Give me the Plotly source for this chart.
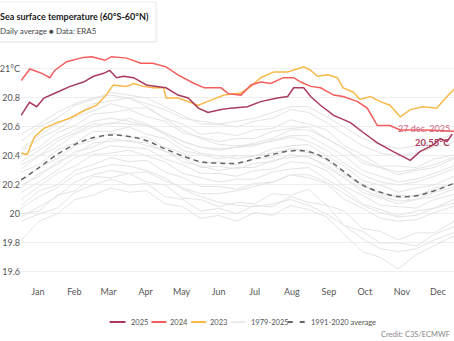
import plotly.graph_objects as go

# ---------------- data ----------------
month_labels = ["Jan", "Feb", "Mar", "Apr", "May", "Jun", "Jul", "Aug", "Sep", "Oct", "Nov", "Dec"]
month_mid_days = [15, 45.5, 74, 105, 135, 166, 196, 227, 258, 288, 319, 349]

y_tick_vals = [19.6, 19.8, 20.0, 20.2, 20.4, 20.6, 20.8, 21.0]
y_tick_text = ["19.6", "19.8", "20", "20.2", "20.4", "20.6", "20.8", "21°C"]

days_2025 = [1, 8, 14, 20, 31, 39, 42, 53, 61.5, 70, 75, 80.7, 86.5, 95, 105.6, 114, 122, 132,
             140.5, 149, 157, 168, 176, 190, 201, 215, 223.6, 228.6, 237, 242.8, 251, 262, 276,
             287, 298.5, 311.8, 326, 334, 345, 351, 356.6, 361]
sst_2025 = [20.68, 20.77, 20.74, 20.80, 20.84, 20.87, 20.88, 20.91, 20.95, 20.97, 20.99, 20.94,
            20.95, 20.94, 20.89, 20.88, 20.87, 20.82, 20.80, 20.73, 20.70, 20.72, 20.73, 20.74,
            20.775, 20.80, 20.81, 20.87, 20.87, 20.81, 20.75, 20.68, 20.63, 20.56, 20.49, 20.43,
            20.37, 20.43, 20.475, 20.52, 20.50, 20.55]

days_2024 = [1, 8.3, 18.3, 25, 29, 39, 53, 60, 71, 76.5, 89, 101, 111, 122, 132, 145.5, 154, 168,
             174, 184.6, 193, 201, 209.5, 220, 228.6, 234.5, 242.8, 251, 262, 270, 282, 290,
             298.5, 309, 317.6, 340, 366]
sst_2024 = [20.92, 21.00, 20.97, 20.94, 20.99, 21.05, 21.08, 21.085, 21.06, 21.085, 21.075, 21.04,
            21.04, 21.015, 20.96, 20.90, 20.87, 20.87, 20.83, 20.82, 20.89, 20.91, 20.90, 20.94,
            20.94, 20.91, 20.88, 20.87, 20.82, 20.81, 20.775, 20.73, 20.61, 20.61, 20.58, 20.58,
            20.57]

days_2023 = [1, 6, 12, 20, 31, 41.6, 53, 64, 72, 78, 89, 95, 103, 111, 120, 122, 132, 149, 159.6,
             170.4, 184.6, 193, 201, 212, 223.6, 237, 242.8, 248.6, 257, 265, 270, 278.5, 284,
             292.6, 301, 309, 317.6, 326, 336.7, 348, 356.6, 361.6, 365]
sst_2023 = [20.42, 20.41, 20.53, 20.59, 20.63, 20.66, 20.71, 20.75, 20.82, 20.89, 20.88, 20.90,
            20.88, 20.87, 20.87, 20.80, 20.80, 20.75, 20.785, 20.82, 20.835, 20.88, 20.94, 20.98,
            20.98, 21.015, 20.99, 20.95, 20.96, 20.94, 20.87, 20.84, 20.79, 20.81, 20.775, 20.75,
            20.67, 20.72, 20.74, 20.73, 20.81, 20.855, 20.88]

avg_days = [1, 16, 31, 46, 61, 76, 91, 106, 121, 136, 151, 166, 181, 196, 211, 226, 241, 256,
            271, 286, 301, 316, 331, 346, 365]
avg_1991_2020 = [20.235, 20.32, 20.41, 20.48, 20.525, 20.545, 20.535, 20.505, 20.45, 20.40,
                 20.36, 20.35, 20.35, 20.38, 20.41, 20.435, 20.43, 20.38, 20.29, 20.20, 20.15,
                 20.12, 20.125, 20.16, 20.22]

grey_days = [1, 16, 31, 46, 61, 76, 91, 106, 121, 136, 151, 166, 181, 196, 211, 226, 241, 256,
             271, 286, 301, 316, 331, 346, 365]
grey_01 = [19.82, 19.95, 20.00, 20.10, 20.13, 20.18, 20.15, 20.16, 20.07, 20.05, 19.97, 19.99, 19.95,
           20.01, 19.99, 20.06, 20.03, 19.98, 19.86, 19.74, 19.70, 19.62, 19.72, 19.78, 19.86]
grey_02 = [19.95, 20.00, 20.04, 20.15, 20.20, 20.24, 20.20, 20.21, 20.12, 20.10, 20.02, 20.04, 20.00,
           20.06, 20.05, 20.12, 20.08, 20.06, 19.92, 19.88, 19.80, 19.80, 19.78, 19.86, 19.92]
grey_03 = [20.00, 20.02, 20.13, 20.16, 20.26, 20.25, 20.28, 20.22, 20.20, 20.11, 20.10, 20.05, 20.08,
           20.07, 20.14, 20.13, 20.17, 20.06, 20.02, 19.90, 19.88, 19.82, 19.87, 19.87, 19.96]
grey_04 = [19.98, 20.05, 20.12, 20.22, 20.27, 20.30, 20.28, 20.29, 20.23, 20.18, 20.14, 20.14, 20.16,
           20.19, 20.22, 20.27, 20.27, 20.22, 20.14, 20.06, 20.01, 19.98, 19.99, 20.04, 20.08]
grey_05 = [20.04, 20.12, 20.18, 20.27, 20.31, 20.34, 20.33, 20.30, 20.25, 20.17, 20.12, 20.08, 20.06,
           20.05, 20.07, 20.10, 20.06, 20.00, 19.92, 19.83, 19.76, 19.74, 19.76, 19.82, 19.88]
grey_06 = [20.06, 20.16, 20.20, 20.30, 20.34, 20.39, 20.36, 20.37, 20.29, 20.25, 20.19, 20.19, 20.17,
           20.21, 20.22, 20.27, 20.25, 20.21, 20.10, 20.04, 19.97, 19.95, 19.96, 20.01, 20.06]
grey_07 = [20.10, 20.19, 20.28, 20.33, 20.41, 20.42, 20.44, 20.40, 20.36, 20.28, 20.25, 20.22, 20.24,
           20.24, 20.29, 20.31, 20.32, 20.24, 20.17, 20.07, 20.03, 19.99, 20.02, 20.04, 20.11]
grey_08 = [20.15, 20.22, 20.30, 20.39, 20.43, 20.47, 20.46, 20.45, 20.38, 20.34, 20.28, 20.28, 20.26,
           20.30, 20.31, 20.36, 20.35, 20.30, 20.19, 20.13, 20.06, 20.05, 20.04, 20.10, 20.14]
grey_09 = [20.20, 20.26, 20.36, 20.41, 20.49, 20.50, 20.51, 20.47, 20.44, 20.36, 20.33, 20.30, 20.32,
           20.32, 20.37, 20.39, 20.40, 20.32, 20.25, 20.15, 20.11, 20.07, 20.10, 20.12, 20.18]
grey_10 = [20.22, 20.32, 20.38, 20.47, 20.51, 20.56, 20.53, 20.53, 20.46, 20.42, 20.35, 20.36, 20.34,
           20.38, 20.39, 20.45, 20.42, 20.38, 20.27, 20.21, 20.13, 20.13, 20.12, 20.18, 20.21]
grey_11 = [20.29, 20.34, 20.44, 20.49, 20.57, 20.57, 20.60, 20.55, 20.52, 20.44, 20.41, 20.38, 20.40,
           20.40, 20.45, 20.47, 20.48, 20.40, 20.33, 20.23, 20.20, 20.15, 20.18, 20.20, 20.27]
grey_12 = [20.31, 20.40, 20.46, 20.55, 20.60, 20.63, 20.62, 20.61, 20.56, 20.50, 20.46, 20.45, 20.46,
           20.49, 20.52, 20.58, 20.58, 20.52, 20.45, 20.37, 20.32, 20.29, 20.31, 20.34, 20.40]
grey_13 = [20.36, 20.44, 20.52, 20.58, 20.64, 20.66, 20.64, 20.61, 20.55, 20.47, 20.42, 20.40, 20.38,
           20.40, 20.42, 20.45, 20.44, 20.37, 20.28, 20.19, 20.15, 20.11, 20.13, 20.16, 20.22]
grey_14 = [20.40, 20.46, 20.56, 20.61, 20.69, 20.70, 20.72, 20.67, 20.64, 20.56, 20.53, 20.50, 20.52,
           20.52, 20.57, 20.59, 20.60, 20.52, 20.45, 20.35, 20.32, 20.27, 20.30, 20.32, 20.39]
grey_15 = [20.43, 20.52, 20.58, 20.67, 20.71, 20.76, 20.73, 20.73, 20.66, 20.62, 20.55, 20.56, 20.54,
           20.58, 20.59, 20.65, 20.62, 20.58, 20.47, 20.41, 20.33, 20.33, 20.32, 20.38, 20.41]
grey_16 = [20.55, 20.62, 20.70, 20.76, 20.80, 20.82, 20.80, 20.74, 20.66, 20.58, 20.52, 20.48, 20.47,
           20.48, 20.50, 20.53, 20.50, 20.44, 20.35, 20.27, 20.22, 20.20, 20.22, 20.26, 20.32]
grey_17 = [20.50, 20.60, 20.66, 20.75, 20.79, 20.84, 20.82, 20.80, 20.74, 20.68, 20.62, 20.62, 20.60,
           20.64, 20.66, 20.72, 20.70, 20.63, 20.55, 20.47, 20.42, 20.40, 20.42, 20.46, 20.50]
grey_18 = [20.45, 20.54, 20.62, 20.68, 20.76, 20.78, 20.80, 20.76, 20.72, 20.66, 20.64, 20.62, 20.64,
           20.66, 20.70, 20.74, 20.74, 20.67, 20.60, 20.52, 20.48, 20.45, 20.47, 20.50, 20.56]
grey_19 = [20.18, 20.28, 20.34, 20.43, 20.46, 20.52, 20.50, 20.49, 20.43, 20.39, 20.32, 20.33, 20.31,
           20.35, 20.36, 20.41, 20.39, 20.34, 20.25, 20.17, 20.12, 20.09, 20.10, 20.15, 20.19]
grey_20 = [20.34, 20.40, 20.50, 20.56, 20.62, 20.62, 20.66, 20.62, 20.56, 20.50, 20.46, 20.44, 20.46,
           20.47, 20.51, 20.54, 20.54, 20.47, 20.40, 20.30, 20.26, 20.22, 20.24, 20.28, 20.34]
grey_series = [grey_01, grey_02, grey_03, grey_04, grey_05, grey_06, grey_07, grey_08, grey_09,
               grey_10, grey_11, grey_12, grey_13, grey_14, grey_15, grey_16, grey_17, grey_18,
               grey_19, grey_20]

# ---------------- styling ----------------
C2025 = "#a93a5c"
C2024 = "#f65c5c"
C2023 = "#f9b94a"
CGREY = "#e4e4e4"
CAVG = "#666666"
FONT = "Lato"

W, H = 454, 341
ML, MR, MT, MB = 19, 0, 50, 56
PW, PH = W - ML - MR, H - MT - MB


def xp(px):
    return (px - ML) / PW


def yp(py):
    return (H - MB - py) / PH


fig = go.Figure()

for vals in grey_series:
    fig.add_trace(go.Scatter(x=grey_days, y=vals, mode="lines",
                             line=dict(color=CGREY, width=1), showlegend=False, hoverinfo="skip"))

fig.add_trace(go.Scatter(x=avg_days, y=avg_1991_2020, mode="lines",
                         line=dict(color=CAVG, width=1.5, dash="5px,4px", shape="spline"),
                         showlegend=False))
fig.add_trace(go.Scatter(x=days_2023, y=sst_2023, mode="lines",
                         line=dict(color=C2023, width=1.5), showlegend=False))
fig.add_trace(go.Scatter(x=days_2024, y=sst_2024, mode="lines",
                         line=dict(color=C2024, width=1.5), showlegend=False))
fig.add_trace(go.Scatter(x=days_2025, y=sst_2025, mode="lines",
                         line=dict(color=C2025, width=1.5), showlegend=False))

shapes = []
# title box (soft shadow + white card)
shapes.append(dict(type="rect", xref="paper", yref="paper", x0=xp(-20), x1=xp(156),
                   y0=yp(43), y1=yp(2.5), fillcolor="rgba(0,0,0,0.05)", line=dict(width=0),
                   layer="above"))
shapes.append(dict(type="rect", xref="paper", yref="paper", x0=xp(-20), x1=xp(154.5),
                   y0=yp(41.5), y1=yp(2), fillcolor="white", line=dict(color="#eeeeee", width=1),
                   layer="above"))

annotations = [
    dict(xref="x", yref="y", x=days_2025[-1], y=sst_2025[-1], text="27 dec. 2025",
         showarrow=False, xanchor="right", yanchor="middle", yshift=6,
         font=dict(family=FONT, size=9, color="#cf6b85")),
    dict(xref="x", yref="y", x=days_2025[-1], y=sst_2025[-1], text="<b>20.55°C</b>",
         showarrow=False, xanchor="right", yanchor="middle", yshift=-8,
         font=dict(family=FONT, size=9.5, color=C2025)),
    dict(xref="paper", yref="paper", x=xp(150), y=yp(16), xanchor="right", yanchor="middle",
         text="<b>Sea surface temperature (60°S-60°N)</b>", showarrow=False,
         font=dict(family=FONT, size=9, color="#1a1a1a")),
    dict(xref="paper", yref="paper", x=xp(97), y=yp(31), xanchor="right", yanchor="middle",
         text="Daily average ● Data: ERA5", showarrow=False,
         font=dict(family=FONT, size=8, color="#444444")),
    dict(xref="paper", yref="paper", x=xp(452), y=yp(334.5), xanchor="right", yanchor="middle",
         text="Credit: C3S/ECMWF", showarrow=False,
         font=dict(family=FONT, size=7.5, color="#888888")),
]

# custom legend
leg_y = 322
legend_items = [
    (108, 124, 127, "2025", C2025, "solid"),
    (150, 165, 167, "2024", C2024, "solid"),
    (190, 205, 207, "2023", C2023, "solid"),
    (230, 245, 248, "1979-2025", "#ececec", "solid"),
    (287, 304, 308, "1991-2020 average", CAVG, "5px,7px"),
]
for x0, x1, tx, label, col, dash in legend_items:
    shapes.append(dict(type="line", xref="paper", yref="paper", x0=xp(x0), x1=xp(x1),
                       y0=yp(leg_y), y1=yp(leg_y), line=dict(color=col, width=2, dash=dash)))
    annotations.append(dict(xref="paper", yref="paper", x=xp(tx), y=yp(leg_y), xanchor="left",
                            yanchor="middle", text=label, showarrow=False,
                            font=dict(family=FONT, size=7.5, color="#555555")))

fig.update_layout(
    width=W, height=H,
    margin=dict(l=ML, r=MR, t=MT, b=MB, pad=0),
    paper_bgcolor="white", plot_bgcolor="white",
    font=dict(family=FONT, size=9, color="#555555"),
    showlegend=False,
    shapes=shapes,
    annotations=annotations,
    xaxis=dict(range=[0.9, 362.5], tickmode="array", tickvals=month_mid_days,
               ticktext=month_labels, showgrid=False, zeroline=False, showline=False,
               ticks="", tickfont=dict(family=FONT, size=9, color="#555555")),
    yaxis=dict(range=[19.51, 21.131], tickmode="array", tickvals=y_tick_vals,
               ticktext=y_tick_text, showgrid=True, gridcolor="#eeeeee", gridwidth=1,
               zeroline=False, showline=False, ticks="",
               tickfont=dict(family=FONT, size=9, color="#555555")),
)

fig.write_html("out.html")
